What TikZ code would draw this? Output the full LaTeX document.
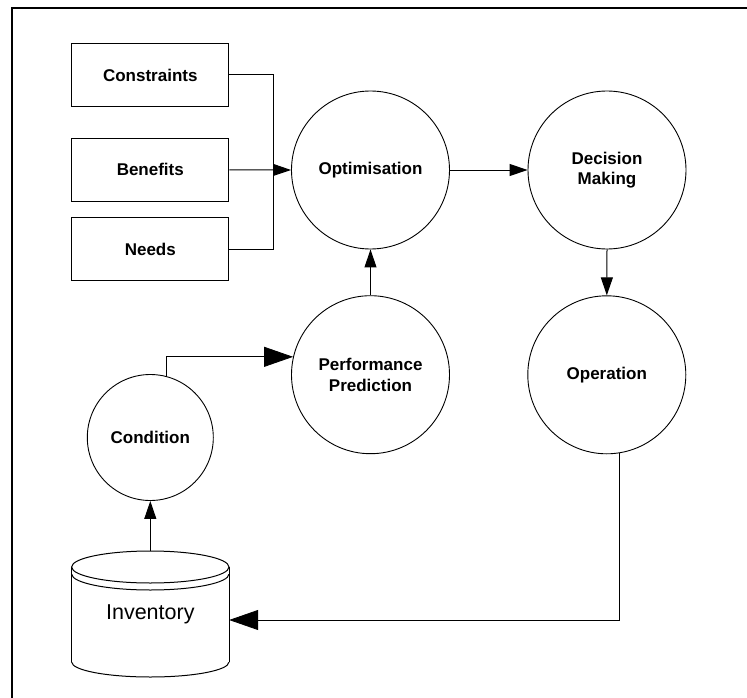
\documentclass[tikz,border=0pt]{standalone}
\usepackage{fontspec}
\setmainfont{Liberation Sans}
\usetikzlibrary{arrows.meta}

\begin{document}
\begin{tikzpicture}[x=1pt,y=-1pt,
  lbl/.style={font=\bfseries\fontsize{17}{20.5}\selectfont, align=center},
  inputbox/.style={draw, line width=1pt, rectangle, minimum width=157.3pt, minimum height=63.2pt, inner sep=0pt, lbl},
  bigproc/.style={draw, line width=0.9pt, circle, minimum size=158pt, inner sep=0pt, lbl},
  smallproc/.style={draw, line width=0.9pt, circle, minimum size=126pt, inner sep=0pt, lbl},
  flow/.style={line width=1pt, -{Triangle[length=18pt,width=12pt]}},
  longflow/.style={line width=0.8pt, -{Triangle[length=29pt,width=20pt]}},
  link/.style={line width=1pt},
  cyl/.style={line width=1pt}
]
\useasboundingbox (0,0) rectangle (747,698);

% frame
\draw[line width=1.2pt] (12,698) -- (12,8) -- (747,8);

% input boxes
\node[inputbox] (con)  at (150.3,75)    {Constraints};
\node[inputbox] (ben)  at (150.3,169.8) {Benefits};
\node[inputbox] (need) at (150.3,249.2) {Needs};

% processes
\node[bigproc]   (opt)  at (370.5,170)   {Optimisation};
\node[bigproc]   (dec)  at (607,170)     {Decision\\Making};
\node[bigproc]   (pp)   at (370.5,374.7) {Performance\\Prediction};
\node[bigproc]   (op)   at (606.8,374.8) {Operation};
\node[smallproc] (cond) at (150.3,437.5) {Condition};

% inventory store (cylinder)
\node[minimum width=157.3pt, minimum height=126pt, inner sep=0pt,
      font=\fontsize{21.5}{25}\selectfont] (inv) at (150.3,614) {Inventory};
\draw[cyl] (71.7,567) -- (71.7,662);
\draw[cyl] (229,567) -- (229,662);
\draw[cyl] (150.3,567) ellipse [x radius=78.65, y radius=16];
\begin{scope}
  \clip (60,574) rectangle (240,600);
  \draw[cyl] (150.3,574) ellipse [x radius=78.65, y radius=16];
\end{scope}
\begin{scope}
  \clip (60,662) rectangle (240,690);
  \draw[cyl] (150.3,662) ellipse [x radius=78.65, y radius=15];
\end{scope}

% inputs merge into optimisation
\coordinate (bus) at (273.3,0);
\draw[link] (con.east) -| (bus |- ben.east);
\draw[link] (need.east) -| (bus |- ben.east);
\draw[flow] (ben.east) -- (opt.west);

% main flow
\draw[flow] (opt.east) -- (dec.west);
\draw[flow] (dec.south) -- (op.north);
\draw[flow] (pp.north) -- (opt.south);
\draw[flow] (inv.north) -- (cond.south);
\draw[longflow] (cond.75) |- (pp.167);

% feedback from operation to inventory
\coordinate (ret) at (619.2,620);
\draw[longflow] (op.-81) |- (ret -| inv.east);
\end{tikzpicture}
\end{document}
